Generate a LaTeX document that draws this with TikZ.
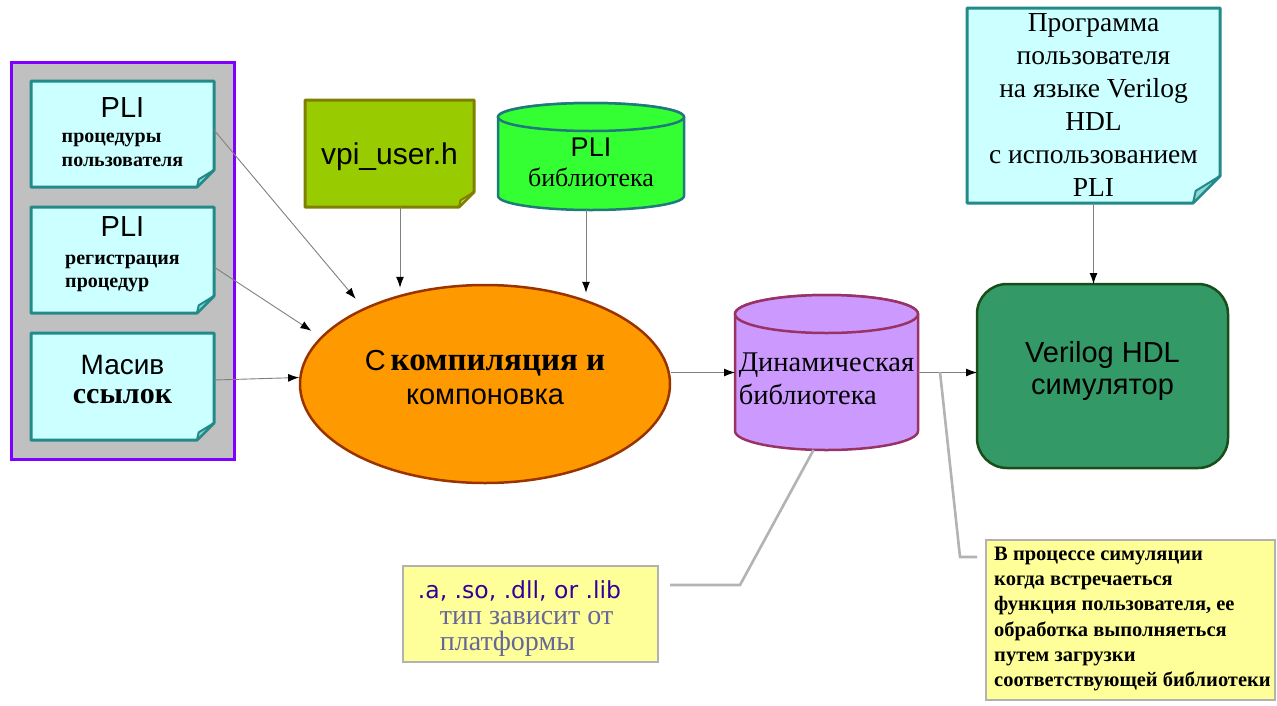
\documentclass[tikz,border=0pt]{standalone}
\usepackage{fontspec}
\setmainfont{Liberation Serif}
\setsansfont{Liberation Sans}
\newfontfamily\dejavu{DejaVu Sans}
\usetikzlibrary{arrows.meta,shapes.geometric,calc}
\pgfdeclarelayer{back}
\pgfdeclarelayer{mid}
\pgfsetlayers{back,mid,main}

\definecolor{panelgray}{HTML}{C0C0C0}
\definecolor{panelviolet}{HTML}{7F00FF}
\definecolor{notecyan}{HTML}{CCFFFF}
\definecolor{noteteal}{HTML}{238A8A}
\definecolor{foldcyan}{HTML}{8FD6D6}
\definecolor{vpifill}{HTML}{99CC00}
\definecolor{vpiline}{HTML}{808000}
\definecolor{vpifold}{HTML}{B8DB4D}
\definecolor{libgreen}{HTML}{33FF33}
\definecolor{libline}{HTML}{1F7A7A}
\definecolor{comporange}{HTML}{FF9900}
\definecolor{compline}{HTML}{993300}
\definecolor{dynviolet}{HTML}{CC99FF}
\definecolor{dynline}{HTML}{993366}
\definecolor{simgreen}{HTML}{339966}
\definecolor{simline}{HTML}{1A4D1A}
\definecolor{noteyellow}{HTML}{FFFF99}
\definecolor{notegray}{HTML}{B2B2B2}
\definecolor{arrowgray}{HTML}{808080}
\definecolor{calloutgray}{HTML}{B3B3B3}
\definecolor{extblue}{HTML}{330099}
\definecolor{platviolet}{HTML}{666699}

\newcommand\fsz[1]{\fontsize{#1}{#1}\selectfont}
\newcommand\cstack[2]{\vbox{\baselineskip=#1\lineskiplimit=-500pt\lineskip=0pt\halign{\hfil##\hfil\cr#2\crcr}}}
\newcommand\lstack[2]{\vbox{\baselineskip=#1\lineskiplimit=-500pt\lineskip=0pt\halign{##\hfil\cr#2\crcr}}}
\newcommand\ltop[2]{\vtop{\baselineskip=#1\lineskiplimit=-500pt\lineskip=0pt\halign{##\hfil\cr#2\crcr}}}
\newcommand\vshift[2]{\raisebox{#1}[\height][\depth]{#2}}

% folded note outline, drawn under the node text
\newcommand\noteshape[5]{%
\begin{pgfonlayer}{mid}
\filldraw[fill=#2, draw=#3, line width=3pt, line join=round]
  (#1.north west) -- (#1.north east) -- ([yshift=#4]#1.south east)
  -- ([xshift=-#4]#1.south east) -- (#1.south west) -- cycle;
\filldraw[fill=#5, draw=#3, line width=2pt, line join=round]
  ([yshift=#4]#1.south east) -- ([xshift=-0.9*#4,yshift=0.45*#4]#1.south east)
  -- ([xshift=-#4]#1.south east) -- cycle;
\end{pgfonlayer}}

% vertical cylinder outline
\newcommand\cylshape[5]{%
\begin{pgfonlayer}{mid}
\filldraw[fill=#2, draw=#3, line width=2.5pt]
  ([yshift=-#4]#1.north west) -- ([yshift=#4]#1.south west)
  arc[start angle=180, end angle=360, x radius=#5, y radius=#4]
  -- ([yshift=-#4]#1.north east)
  arc[start angle=0, end angle=180, x radius=#5, y radius=#4] -- cycle;
\filldraw[fill=#2, draw=#3, line width=2.5pt]
  ([yshift=-#4]#1.north) ellipse[x radius=#5, y radius=#4];
\end{pgfonlayer}}

\begin{document}
\begin{tikzpicture}[x=1pt,y=-1pt,
  area/.style={rectangle, anchor=north west, inner sep=0pt, outer sep=0pt},
  arr/.style={draw=arrowgray, line width=0.9pt, -{Latex[length=11pt,width=8pt,black]}},
  callout/.style={draw=calloutgray, line width=2.6pt},
  plainbox/.style={area, fill=noteyellow, draw=notegray, line width=2.5pt},
]
\useasboundingbox (0,0) rectangle (1277,705);
\begin{pgfonlayer}{back}
\fill[white] (0,0) rectangle (1277,705);
\node[area, fill=panelgray, draw=panelviolet, line width=3pt,
      minimum width=223pt, minimum height=397pt] (panel) at (11,62) {};
\end{pgfonlayer}

% left notes
\node[area, minimum width=183pt, minimum height=106pt] (n1) at (31,81)
  {\vshift{2pt}{\cstack{25pt}{{\sffamily\fsz{29}PLI}\cr
   \ltop{24pt}{{\bfseries\fsz{20}процедуры}\cr{\bfseries\fsz{20}пользователя}}}}};
\noteshape{n1}{notecyan}{noteteal}{17pt}{foldcyan}

\node[area, minimum width=183pt, minimum height=106pt] (n2) at (31,207)
  {\vshift{5.5pt}{\cstack{28pt}{{\sffamily\fsz{29}PLI}\cr
   \ltop{23pt}{{\bfseries\fsz{20}регистрация}\cr{\bfseries\fsz{20}процедур}}}}};
\noteshape{n2}{notecyan}{noteteal}{17pt}{foldcyan}

\node[area, minimum width=183pt, minimum height=107pt] (n3) at (31,333)
  {\vshift{7pt}{\cstack{29pt}{{\sffamily\fsz{28}Масив}\cr{\bfseries\fsz{30}ссылок}}}};
\noteshape{n3}{notecyan}{noteteal}{17pt}{foldcyan}

% header file and PLI library
\node[area, minimum width=169pt, minimum height=107pt] (vpi) at (305,100)
  {\vshift{-3.5pt}{\sffamily\fsz{30}vpi\_user.h}};
\noteshape{vpi}{vpifill}{vpiline}{15pt}{vpifold}

\node[area, minimum width=186pt, minimum height=107pt] (lib) at (498,103)
  {\vshift{-5.5pt}{\cstack{30pt}{{\sffamily\fsz{27}PLI}\cr{\fsz{26}библиотека}}}};
\cylshape{lib}{libgreen}{libline}{14pt}{93pt}

% compile ellipse
\node[ellipse, fill=comporange, draw=compline, line width=2.5pt, inner sep=0pt,
      minimum width=370pt, minimum height=198pt] (comp) at (485,384)
  {\vshift{6.5pt}{\cstack{34pt}{{\sffamily\fsz{29}С\hspace{5pt}\rmfamily\bfseries\fsz{33}компиляция и}\cr
   {\sffamily\fsz{29}компоновка}}}};

% dynamic library
\node[area, minimum width=183pt, minimum height=155pt] (dyn) at (735,295)
  {\vshift{-6pt}{\fsz{28.5}\lstack{33pt}{Динамическая\cr библиотека}}};
\cylshape{dyn}{dynviolet}{dynline}{19pt}{91.5pt}

% simulator
\node[area, rounded corners=30pt, fill=simgreen, draw=simline, line width=2.5pt,
      minimum width=251pt, minimum height=184pt] (sim) at (977,284)
  {\vshift{5pt}{\sffamily\fsz{29}\cstack{32pt}{Verilog HDL\cr симулятор}}};

% user program note
\node[area, minimum width=253pt, minimum height=195pt] (tnote) at (967,8)
  {\vshift{1pt}{\fsz{27.5}\cstack{33pt}{Программа\cr пользователя\cr на языке Verilog\cr HDL\cr с использованием\cr PLI}}};
\noteshape{tnote}{notecyan}{noteteal}{27pt}{foldcyan}

% yellow notes
\node[plainbox, minimum width=255pt, minimum height=96pt] (bn1) at (403,566)
  {\vshift{-5pt}{\lstack{26pt}{{\kern-22pt\color{extblue}\dejavu\fsz{23.5}.a, .so, .dll, or .lib}\cr
   {\color{platviolet}\fsz{28}тип зависит от}\cr{\color{platviolet}\fsz{28}платформы}}}};

\node[plainbox, minimum width=289pt, minimum height=160pt] (bn2) at (986,540)
  {\vshift{1pt}{\hspace{4pt}\bfseries\fsz{20.5}\lstack{25.2pt}{В процессе симуляции\cr когда встречаеться\cr
   функция пользователя, ее\cr обработка выполняеться\cr путем загрузки\cr
   соответствующей библиотеки}}};

% arrows
\draw[arr, shorten >=12pt] ([yshift=4pt]n1.east) -- (comp.148.5);
\draw[arr, shorten >=11pt] ([yshift=-7pt]n2.east) -- (comp.164.4);
\draw[arr] ([yshift=6.5pt]n3.east) -- (comp.178.8);
\draw[arr] ([xshift=10.5pt]vpi.south) -- ([xshift=10.5pt,yshift=-4pt]vpi.south |- comp.north);
\draw[arr] ([xshift=-5pt]lib.south) -- ([xshift=-5pt,yshift=-9pt]lib.south |- comp.north);
\draw[arr] (comp.east |- dyn.west) -- (dyn.west);
\draw[arr] (dyn.east) -- (sim.west |- dyn.east);
\draw[arr] (tnote.south) -- (tnote.south |- sim.north);

% callout lines
\coordinate (k1) at (740,585);
\coordinate (k2) at (960,557);
\coordinate (k3) at (940,372);
\draw[callout] ([xshift=-13pt]dyn.south) -- (k1) -- ([xshift=12pt,yshift=29pt]bn1.east);
\draw[callout] (k3) -- (k2) -- ([xshift=-9pt,yshift=63pt]bn2.west);
\end{tikzpicture}
\end{document}
